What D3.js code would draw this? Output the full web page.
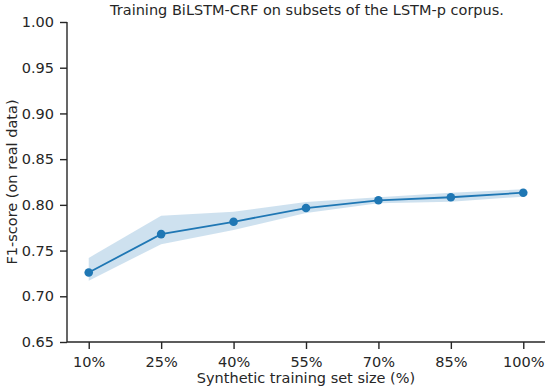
<!DOCTYPE html>
<html>
<head>
<meta charset="utf-8">
<script src="https://cdn.jsdelivr.net/npm/d3@7"></script>
<style>
    body { margin: 0; background: #fff; }
    svg text { font-family: 'DejaVu Sans', sans-serif; fill: #262626; }
</style>
</head>
<body>
<div id="chart"></div>
<script>
const sizes = [10, 25, 40, 55, 70, 85, 100];
const f1Mean = [0.726, 0.768, 0.7815, 0.7965, 0.805, 0.8083, 0.8133];
const f1Upper = [0.742, 0.788, 0.7925, 0.803, 0.8083, 0.8133, 0.817];
const f1Lower = [0.717, 0.757, 0.7725, 0.791, 0.8017, 0.8034, 0.809];
const yTicks = [0.65, 0.7, 0.75, 0.8, 0.85, 0.9, 0.95, 1.0];

const W = 550;
const H = 392;
const margin = { top: 22, right: 5, bottom: 50, left: 67 };
const width = W - margin.left - margin.right;
const height = H - margin.top - margin.bottom;
const color = '#1f77b4';
const fontSize = '14.5px';

const svg = d3
    .select('#chart')
    .append('svg')
    .attr('width', W)
    .attr('height', H);

const g = svg
    .append('g')
    .attr('transform', 'translate(' + margin.left + ',' + margin.top + ')');

const x = d3.scaleLinear().domain([5.5, 104.5]).range([0, width]);
const y = d3.scaleLinear().domain([0.65, 1.0]).range([height, 0]);

const data = sizes.map((s, i) => ({
    s: s,
    m: f1Mean[i],
    hi: f1Upper[i],
    lo: f1Lower[i]
}));

// confidence band
g.append('path')
    .datum(data)
    .attr('fill', color)
    .attr('fill-opacity', 0.22)
    .attr('stroke', 'none')
    .attr(
        'd',
        d3
            .area()
            .x((d) => x(d.s))
            .y0((d) => y(d.lo))
            .y1((d) => y(d.hi))
    );

g.append('path')
    .datum(data)
    .attr('fill', 'none')
    .attr('stroke', color)
    .attr('stroke-width', 1.8)
    .attr(
        'd',
        d3
            .line()
            .x((d) => x(d.s))
            .y((d) => y(d.m))
    );

g.selectAll('circle')
    .data(data)
    .enter()
    .append('circle')
    .attr('cx', (d) => x(d.s))
    .attr('cy', (d) => y(d.m))
    .attr('r', 4.3)
    .attr('fill', color);

// axes
const xAxis = d3
    .axisBottom(x)
    .tickValues(sizes)
    .tickSize(7)
    .tickPadding(8)
    .tickFormat((d) => d + '%');
const yAxis = d3
    .axisLeft(y)
    .tickValues(yTicks)
    .tickSize(7)
    .tickPadding(6)
    .tickFormat(d3.format('.2f'));

const gx = g
    .append('g')
    .attr('transform', 'translate(0,' + height + ')')
    .call(xAxis);
const gy = g.append('g').call(yAxis);

[gx, gy].forEach((ax) => {
    ax.select('.domain')
        .attr('stroke', '#262626')
        .attr('stroke-width', 1.4);
    ax.selectAll('.tick line')
        .attr('stroke', '#262626')
        .attr('stroke-width', 1.4);
    ax.selectAll('.tick text')
        .style('font-size', fontSize)
        .attr('fill', '#262626');
});
// remove outer tick ends
gx.select('.domain').attr('d', 'M0,0H' + width);
gy.select('.domain').attr('d', 'M0,0V' + height);

svg.append('text')
    .attr('x', 307)
    .attr('y', 15)
    .attr('text-anchor', 'middle')
    .style('font-size', fontSize)
    .text('Training BiLSTM-CRF on subsets of the LSTM-p corpus.');

svg.append('text')
    .attr('x', margin.left + width / 2)
    .attr('y', 383)
    .attr('text-anchor', 'middle')
    .style('font-size', fontSize)
    .text('Synthetic training set size (%)');

svg.append('text')
    .attr('transform', 'translate(17,' + (margin.top + height / 2) + ') rotate(-90)')
    .attr('text-anchor', 'middle')
    .style('font-size', fontSize)
    .text('F1-score (on real data)');
</script>
</body>
</html>
